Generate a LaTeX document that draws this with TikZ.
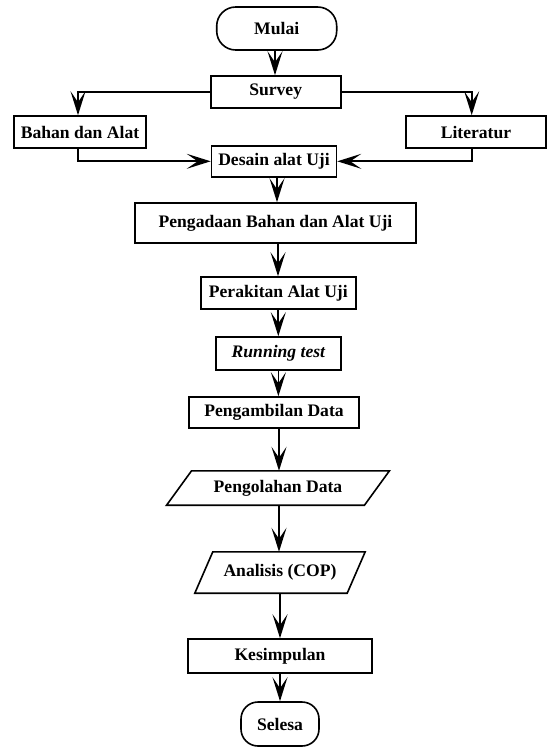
\documentclass[tikz,border=0pt]{standalone}
\usepackage{fontspec}
\setmainfont{Liberation Serif}
\usetikzlibrary{arrows.meta,calc}
\begin{document}
\begin{tikzpicture}[x=1pt,y=-1pt,
  txt/.style={inner sep=0pt, font=\fontsize{17.6}{20}\selectfont\bfseries, align=center},
  box/.style={txt, draw, line width=1.6pt},
  term/.style={box, rounded corners=19pt},
  boxline/.style={line width=1.6pt, line join=miter},
  arr/.style={line width=1.8pt, -{Stealth[length=24pt,width=15pt,inset=11pt]}},
  con/.style={line width=1.8pt}]
\useasboundingbox (0,0) rectangle (554,747);
\fill[white] (0,0) rectangle (554,747);

\node[term, minimum width=120pt, minimum height=43pt] (mulai) at (276.7,28.5) {Mulai};
\node[box, minimum width=130pt, minimum height=32pt] (survey) at (275.7,92) {Survey};
\node[box, minimum width=132pt, minimum height=32pt] (bahan) at (80,132) {Bahan dan Alat};
\node[box, minimum width=140pt, minimum height=32pt] (lit) at (476,132) {Literatur};
\node[box, minimum width=125pt, minimum height=31pt] (desain) at (274,161.3) {Desain alat Uji};
\node[box, minimum width=281pt, minimum height=40pt] (pengadaan) at (275.5,223) {Pengadaan Bahan dan Alat Uji};
\node[box, minimum width=155pt, minimum height=32pt] (perakitan) at (278.3,293) {Perakitan Alat Uji};
\node[box, minimum width=125pt, minimum height=33pt] (running) at (278.4,353.5) {\itshape Running test};
\node[box, minimum width=170pt, minimum height=31pt] (ambil) at (274,412.5) {Pengambilan Data};
\node[txt, minimum width=197.5pt, minimum height=34pt] (olah) at (278,488) {Pengolahan Data};
\draw[boxline] ($(olah.north west)+(12.5,0)$) -- ($(olah.north east)+(12.5,0)$)
  -- ($(olah.south east)+(-12.5,0)$) -- ($(olah.south west)+(-12.5,0)$) -- cycle;
\node[txt, minimum width=152pt, minimum height=41pt] (analisis) at (280,572.5) {Analisis (COP)};
\draw[boxline] ($(analisis.north west)+(9,0)$) -- ($(analisis.north east)+(9,0)$)
  -- ($(analisis.south east)+(-9,0)$) -- ($(analisis.south west)+(-9,0)$) -- cycle;
\node[box, minimum width=184pt, minimum height=34pt] (kesimpulan) at (280,656) {Kesimpulan};
\node[term, rounded corners=17pt, minimum width=78pt, minimum height=44pt] (selesa) at (280,724) {Selesa};

\draw[arr] ([xshift=-1.7pt]mulai.south) -- ([xshift=-1.7pt]mulai.south |- survey.north);
\draw[arr] (survey.west) -| ([xshift=-2pt]bahan.north);
\draw[arr] (survey.east) -| ([xshift=-4.3pt]lit.north);
\draw[arr] ([xshift=-2pt]bahan.south) |- (desain.west);
\draw[arr] ([xshift=-4.3pt]lit.south) |- (desain.east);
\draw[arr] ([xshift=3pt]desain.south) -- ([xshift=3pt]desain.south |- pengadaan.north);
\draw[arr] ([xshift=2.5pt]pengadaan.south) -- ([xshift=2.5pt]pengadaan.south |- perakitan.north);
\draw[arr] (perakitan.south) -- (perakitan.south |- running.north);
\draw[arr] (running.south) -- (running.south |- ambil.north);
\draw[arr] ([xshift=5pt]ambil.south) -- ([xshift=5pt]ambil.south |- olah.north);
\draw[arr] ([xshift=1pt]olah.south) -- ([xshift=1pt]olah.south |- analisis.north);
\draw[arr] (analisis.south) -- (analisis.south |- kesimpulan.north);
\draw[arr] (kesimpulan.south) -- (kesimpulan.south |- selesa.north);
\end{tikzpicture}
\end{document}
